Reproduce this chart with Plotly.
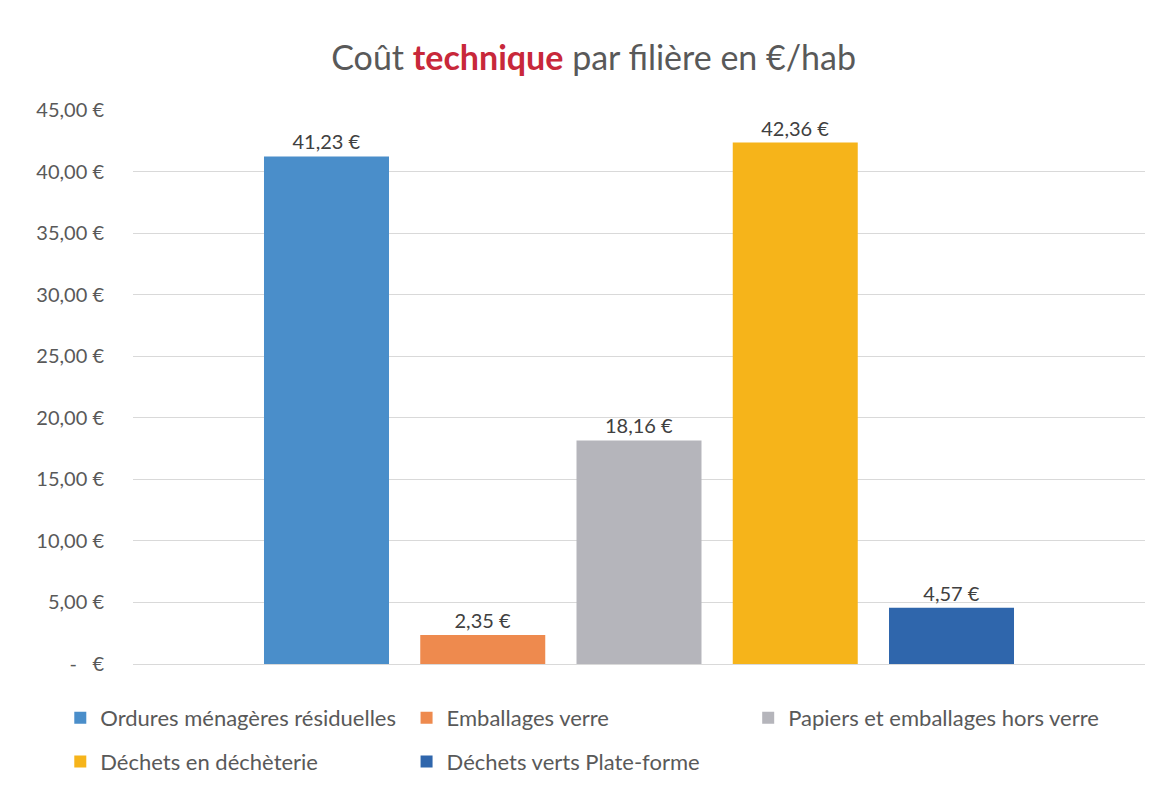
import plotly.graph_objects as go

series_names = [
    "Ordures ménagères résiduelles",
    "Emballages verre",
    "Papiers et emballages hors verre",
    "Déchets en déchèterie",
    "Déchets verts Plate-forme",
]
values = [41.23, 2.35, 18.16, 42.36, 4.57]
colors = ["#4A8ECA", "#EE8A4E", "#B5B5BB", "#F6B41A", "#2F66AC"]
legend_ids = ["legend", "legend2", "legend3", "legend", "legend2"]
category = ["Filière"]

tick_values = [0, 5, 10, 15, 20, 25, 30, 35, 40, 45]
tick_labels = ["-   €", "5,00 €", "10,00 €", "15,00 €", "20,00 €", "25,00 €",
               "30,00 €", "35,00 €", "40,00 €", "45,00 €"]

FONT = "Lato, 'Open Sans', sans-serif"

fig = go.Figure()
for i, (name, v, c, lg) in enumerate(zip(series_names, values, colors, legend_ids)):
    fig.add_trace(go.Bar(
        x=category, y=[v], name=name, marker_color=c, marker_line_width=0,
        text=[v], texttemplate="%{y:.2f} €", textposition="outside",
        textfont=dict(size=20, color="#404040", family=FONT),
        cliponaxis=False, legend=lg, legendgroup=f"g{i}",
    ))

legend_common = dict(orientation="v", xref="container", yref="container",
                     xanchor="left", yanchor="top", traceorder="grouped",
                     tracegroupgap=12, itemwidth=30,
                     font=dict(size=22, color="#595959", family=FONT),
                     bgcolor="rgba(0,0,0,0)")
legend_top = 1 - 689 / 791

fig.update_layout(
    width=1162, height=791,
    paper_bgcolor="white", plot_bgcolor="white",
    separators=", ",
    barmode="group", bargap=0.228, bargroupgap=0.2,
    margin=dict(l=125, r=25, t=102, b=135, autoexpand=False),
    font=dict(family=FONT, color="#595959"),
    title=dict(
        text="Coût <span style='color:#C8283A'><b>technique</b></span> par filière en €/hab",
        x=0.504, xanchor="center", y=1 - 50 / 791, yanchor="middle",
        font=dict(size=34, color="#595959", family=FONT),
    ),
    xaxis=dict(showticklabels=False, showgrid=False, zeroline=False, showline=False),
    yaxis=dict(range=[0, 45], tickvals=tick_values, ticktext=tick_labels,
               showgrid=True, gridcolor="#D9D9D9", gridwidth=1,
               zeroline=True, zerolinecolor="#D9D9D9", zerolinewidth=1,
               tickfont=dict(size=20, color="#595959", family=FONT),
               ticks="", ticklabelstandoff=28),
    legend=dict(legend_common, x=0.045, y=legend_top),
    legend2=dict(legend_common, x=0.343, y=legend_top),
    legend3=dict(legend_common, x=0.637, y=legend_top),
)

fig.write_html("out.html")
